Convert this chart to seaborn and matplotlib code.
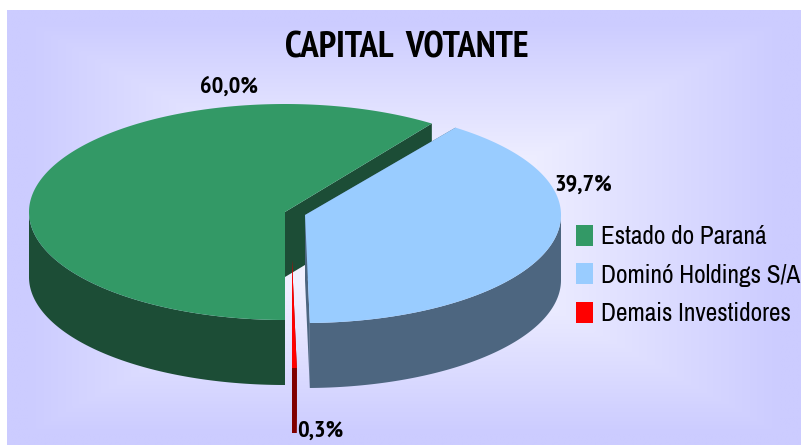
import numpy as np
import matplotlib
matplotlib.use("Agg")
import matplotlib.pyplot as plt
from matplotlib.patches import Patch
from matplotlib.colors import LinearSegmentedColormap
import seaborn as sns

# Data
categories = ["Estado do Paraná", "Dominó Holdings S/A", "Demais Investidores"]
shares = [60.0, 39.7, 0.3]
share_labels = ["60,0%", "39,7%", "0,3%"]
title = "CAPITAL  VOTANTE"

# Styling
top_colors = sns.color_palette(["#339966", "#99CCFF", "#FF0000"])
side_colors = sns.color_palette(["#1C4D36", "#4D6680", "#800000"])
FONT = ["Archivo Narrow", "Liberation Sans", "DejaVu Sans"]
BOLD = ["PT Sans Narrow", "Roboto Condensed", "Liberation Sans", "DejaVu Sans"]
sns.set_theme(style="white")
plt.rcParams["font.family"] = FONT

W, H = 801, 445
RX, RY, DEPTH = 256, 108, 65
START = 54.0
GREEN_TRIM = 1.0  # the reference's first slice stops just short of the second
centers = [(285, 212), (305, 215), (292, 260)]
label_pos = [(229, 87), (583, 185), (320, 431)]

fig = plt.figure(figsize=(W / 100, H / 100), dpi=100, facecolor="white")
ax = fig.add_axes([0, 0, 1, 1])
ax.axis("off")

# Background gradient panel
xx, yy = np.meshgrid(np.linspace(7, W, 400), np.linspace(10, H, 220))
t = np.maximum(np.abs(xx - 404) / 397, np.abs(yy - 228) / 217)
t = np.clip(t / 0.95, 0, 1)
cmap = LinearSegmentedColormap.from_list("bg", ["#FFFFFF", "#CCCCFF"])
ax.imshow(t, extent=(7, W, H, 10), cmap=cmap, vmin=0, vmax=1, aspect="auto",
          zorder=0, interpolation="bilinear")
ax.set_xlim(0, W)
ax.set_ylim(H, 0)

# Slice angles from the data
spans = np.array(shares) / sum(shares) * 360
a_green = (START, START + spans[0])
a_red = (a_green[1], a_green[1] + spans[2])
a_blue = (a_red[1], START + 360)
angles = [(a_green[0] + GREEN_TRIM, a_green[1]), a_blue, a_red]


def rim(c, a0, a1, n=240):
    th = np.radians(np.linspace(a0, a1, n))
    return c[0] + RX * np.cos(th), c[1] - RY * np.sin(th)


def draw_slice(i, z):
    c, (a0, a1) = centers[i], angles[i]
    top, side = top_colors[i], side_colors[i]
    kw = dict(linewidth=0, zorder=z)
    for a in (a0, a1):
        ex, ey = rim(c, a, a, 1)
        ax.fill([c[0], ex[0], ex[0], c[0]],
                [c[1], ey[0], ey[0] + DEPTH, c[1] + DEPTH], color=side, **kw)
    segs = [(max(a0, 180), min(a1, 360)), (max(a0, 540), min(a1, 720))]
    for s0, s1 in segs:
        if s1 > s0:
            x, y = rim(c, s0, s1)
            ax.fill(np.r_[x, x[::-1]], np.r_[y, y[::-1] + DEPTH], color=side, **kw)
    x, y = rim(c, a0, a1)
    ax.fill(np.r_[c[0], x], np.r_[c[1], y], color=top, **kw)


draw_slice(0, 2)
draw_slice(1, 3)
draw_slice(2, 4)

# Labels
for lab, (lx, ly) in zip(share_labels, label_pos):
    ax.text(lx, ly, lab, ha="center", va="center", fontsize=17.6, fontweight="bold",
            family=BOLD, color="#000000", zorder=6)
ax.text(407, 48, title, ha="center", va="center", fontsize=26.4, fontweight="bold",
        family=BOLD, color="#000000", zorder=6)

# Legend
handles = [Patch(facecolor=c, edgecolor="none") for c in top_colors]
ax.legend(handles, categories, loc="upper left", bbox_to_anchor=(576 / W, 1 - 225 / H),
          frameon=False, fontsize=18.2, handlelength=0.67, handleheight=0.9,
          handletextpad=0.3, labelspacing=0.6, borderpad=0, borderaxespad=0,
          labelcolor="#000000")

fig.savefig("out.png", dpi=100)
